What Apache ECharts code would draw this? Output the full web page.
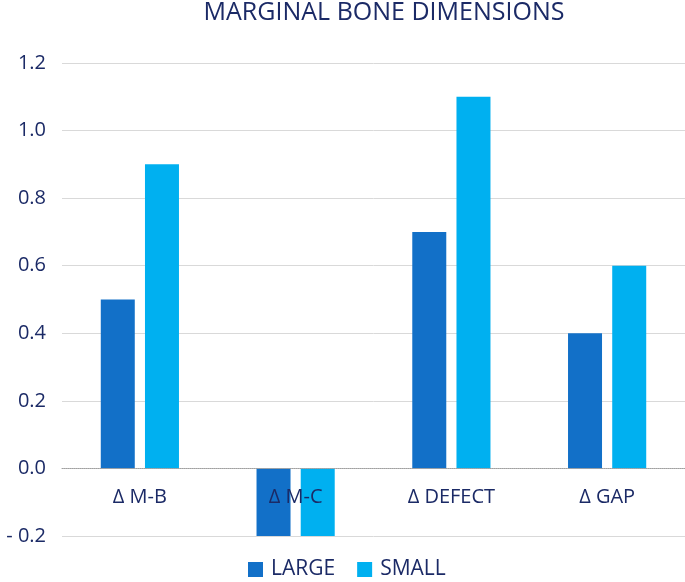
<!DOCTYPE html>
<html>
<head>
<meta charset="utf-8">
<script src="https://cdn.jsdelivr.net/npm/echarts@6/dist/echarts.min.js"></script>
<style>
  html, body { margin: 0; padding: 0; background: #fff; }
  #chart { width: 685px; height: 582px; }
</style>
</head>
<body>
<div id="chart"></div>
<script>
// data
const categories = ['Δ M-B', 'Δ M-C', 'Δ DEFECT', 'Δ GAP']
const large = [0.5, -0.2, 0.7, 0.4]
const small = [0.9, -0.2, 1.1, 0.6]

const navy = '#1b2a66'
const font = 'Open Sans'

const chart = echarts.init(document.getElementById('chart'))

chart.setOption({
  animation: false,
  title: {
    text: 'MARGINAL BONE DIMENSIONS',
    left: 384,
    top: 0,
    padding: 0,
    textAlign: 'center',
    textStyle: { color: navy, fontFamily: font, fontWeight: 'normal', fontSize: 25 }
  },
  legend: {
    top: 559,
    left: 248,
    padding: 0,
    itemWidth: 15,
    itemHeight: 15,
    itemGap: 22,
    icon: 'rect',
    textStyle: { color: navy, fontFamily: font, fontSize: 21, padding: [0, 0, 0, 3] },
    data: ['LARGE', 'SMALL']
  },
  grid: { left: 62, right: 0, top: 63, bottom: 46 },
  xAxis: {
    type: 'category',
    data: categories,
    // axis sits on the zero line (68px above the bottom of the grid)
    offset: -68,
    axisTick: { show: false },
    axisLine: { onZero: false, lineStyle: { color: '#a0a0a0', type: 'dotted', width: 1 } },
    axisLabel: { color: navy, fontFamily: font, fontSize: 20, margin: 19 },
    z: 10
  },
  yAxis: {
    type: 'value',
    min: -0.2,
    max: 1.2,
    interval: 0.2,
    axisLine: { show: false },
    axisTick: { show: false },
    splitLine: { lineStyle: { color: '#d9d9d9', width: 1 } },
    axisLabel: {
      color: navy,
      fontFamily: font,
      fontSize: 20,
      margin: 16,
      formatter: v => {
        const r = Math.round(v * 10) / 10
        return r < 0 ? '- ' + Math.abs(r).toFixed(1) : r.toFixed(1)
      }
    }
  },
  series: [
    {
      name: 'LARGE',
      type: 'bar',
      data: large,
      barWidth: 34,
      barGap: '30%',
      itemStyle: { color: '#1270c8' }
    },
    {
      name: 'SMALL',
      type: 'bar',
      data: small,
      barWidth: 34,
      itemStyle: { color: '#00b0f0' }
    }
  ]
})
</script>
</body>
</html>
